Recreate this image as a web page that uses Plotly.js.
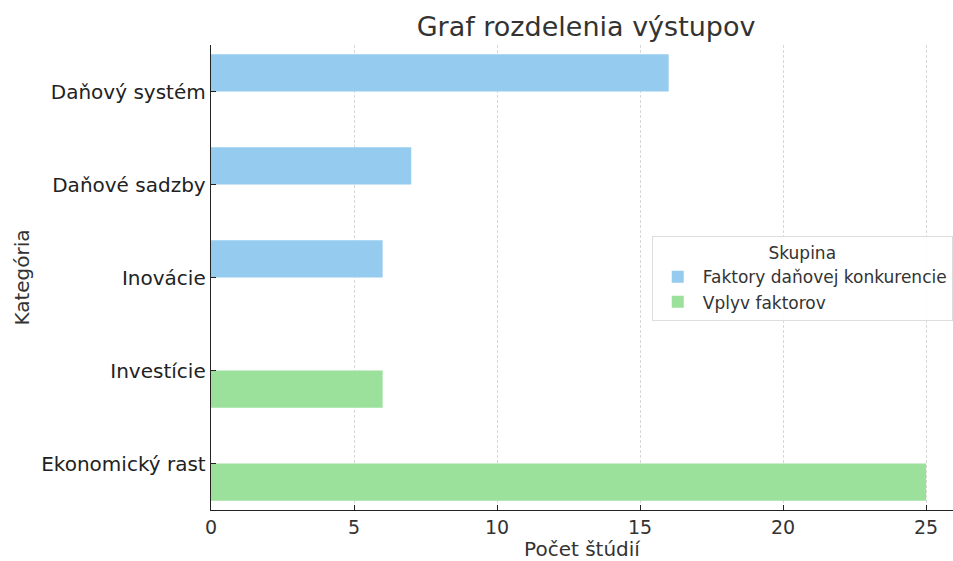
<!DOCTYPE html>
<html><head><meta charset="utf-8">
<script src="https://cdn.plot.ly/plotly-3.0.1.min.js"></script>
<style>body{margin:0;padding:0;background:#fff}#chart{width:953px;height:561px}</style>
</head><body><div id="chart"></div>
<script>
const categories = ["Daňový systém", "Daňové sadzby", "Inovácie", "Investície", "Ekonomický rast"];
const groupNames = ["Faktory daňovej konkurencie", "Vplyv faktorov"];
const factorValues = [16, 7, 6, 0, 0];
const impactValues = [0, 0, 0, 6, 25];
const xTicks = [0, 5, 10, 15, 20, 25];

const font = "DejaVu Sans, sans-serif";
const traces = [
  {type: "bar", orientation: "h", name: groupNames[0], y: categories, x: factorValues,
   offset: -0.4, width: 0.4, marker: {color: "#95CBEE"}, hoverinfo: "x+y"},
  {type: "bar", orientation: "h", name: groupNames[1], y: categories, x: impactValues,
   offset: 0, width: 0.4, marker: {color: "#9BE09B"}, hoverinfo: "x+y"}
];
const layout = {
  width: 953, height: 561,
  margin: {l: 211, r: 0, t: 45, b: 51},
  paper_bgcolor: "#fff", plot_bgcolor: "#fff",
  font: {family: font, color: "#333", size: 18},
  title: {text: "Graf rozdelenia výstupov", font: {family: font, size: 27, color: "#333"},
          x: 0.615, xanchor: "center", y: 0.953, yanchor: "middle"},
  barmode: "overlay",
  showlegend: true,
  legend: {x: 0.594, y: 0.589, xanchor: "left", yanchor: "top",
           bgcolor: "rgba(255,255,255,0.9)", bordercolor: "#ddd", borderwidth: 1,
           font: {family: font, size: 17, color: "#333"},
           title: {text: "Skupina", side: "top center", font: {family: font, size: 17, color: "#333"}},
           tracegroupgap: 2, itemwidth: 40},
  xaxis: {range: [0, 25.94], tickvals: xTicks, ticktext: xTicks.map(String),
          showgrid: true, gridcolor: "#d8d8d8", griddash: "3px,2px", gridwidth: 1,
          zeroline: false, showline: true, linecolor: "#222", linewidth: 1.3,
          ticks: "inside", ticklen: 5, tickcolor: "#222",
          tickfont: {family: font, size: 19, color: "#333"},
          title: {text: "Počet štúdií", font: {family: font, size: 20, color: "#333"}, standoff: 6}},
  yaxis: {type: "category", categoryorder: "array", categoryarray: categories,
          range: [4.5, -0.5], showgrid: false, zeroline: false,
          showline: true, linecolor: "#222", linewidth: 1.3,
          ticks: "inside", ticklen: 5, tickcolor: "#222",
          tickfont: {family: font, size: 20, color: "#222"},
          title: {text: "Kategória", font: {family: font, size: 20, color: "#333"}, standoff: 6}}
};
Plotly.newPlot("chart", traces, layout, {displayModeBar: false, staticPlot: true});
</script></body></html>
